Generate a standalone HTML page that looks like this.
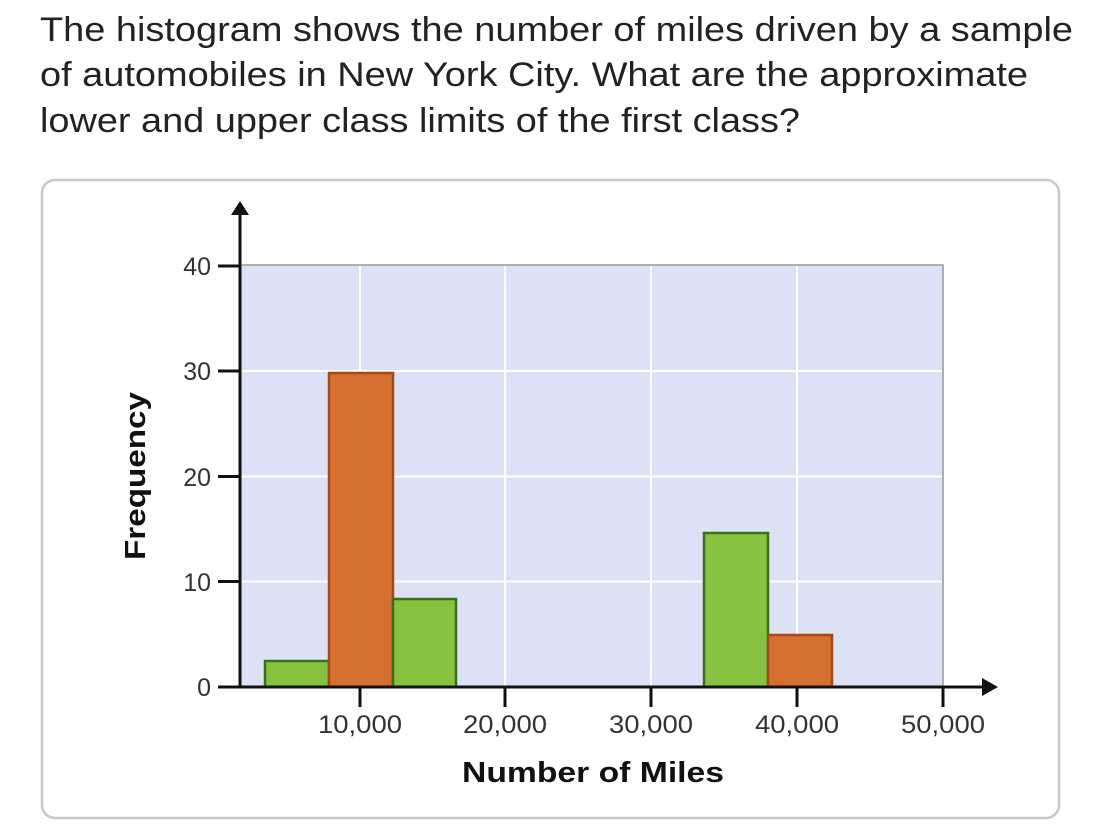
<!DOCTYPE html>
<html><head><meta charset="utf-8"><style>
html,body{margin:0;padding:0;background:#fff;}
svg{display:block;font-family:"Liberation Sans",Arial,sans-serif;}
</style></head><body>
<svg width="1112" height="824" viewBox="0 0 1112 824" xmlns="http://www.w3.org/2000/svg">
<g font-size="34" fill="#222">
<text x="40" y="41" textLength="1033" lengthAdjust="spacingAndGlyphs">The histogram shows the number of miles driven by a sample</text>
<text x="40" y="86" textLength="988" lengthAdjust="spacingAndGlyphs">of automobiles in New York City. What are the approximate</text>
<text x="40" y="132" textLength="760" lengthAdjust="spacingAndGlyphs">lower and upper class limits of the first class?</text>
</g>
<rect x="42" y="180" width="1017" height="638" rx="13" fill="#fff" stroke="#c8c8c8" stroke-width="2.5"/>
<rect x="240" y="265" width="703" height="422" fill="#dce1f5" stroke="#999" stroke-width="1.5"/>
<g stroke="#fff" stroke-width="2">
<line x1="360" y1="266" x2="360" y2="686"/><line x1="505" y1="266" x2="505" y2="686"/>
<line x1="651" y1="266" x2="651" y2="686"/><line x1="797" y1="266" x2="797" y2="686"/>
<line x1="241" y1="371" x2="942" y2="371"/><line x1="241" y1="476.5" x2="942" y2="476.5"/>
<line x1="241" y1="581.5" x2="942" y2="581.5"/>
</g>
<g stroke-width="2.5">
<rect x="265" y="661" width="64" height="26" fill="#86c240" stroke="#3a6e1e"/>
<rect x="329" y="373" width="64" height="314" fill="#d57030" stroke="#a04a1a"/>
<rect x="393" y="599" width="63" height="88" fill="#86c240" stroke="#3a6e1e"/>
<rect x="704" y="533" width="64" height="154" fill="#86c240" stroke="#3a6e1e"/>
<rect x="768" y="635" width="64" height="52" fill="#d57030" stroke="#a04a1a"/>
</g>
<g stroke="#111" stroke-width="3">
<line x1="240" y1="214" x2="240" y2="688"/>
<line x1="239" y1="687" x2="984" y2="687"/>
<line x1="218" y1="266" x2="240" y2="266"/><line x1="218" y1="371" x2="240" y2="371"/>
<line x1="218" y1="476.5" x2="240" y2="476.5"/><line x1="218" y1="581.5" x2="240" y2="581.5"/>
<line x1="218" y1="687" x2="240" y2="687"/>
<line x1="360" y1="687" x2="360" y2="707"/><line x1="505" y1="687" x2="505" y2="707"/>
<line x1="651" y1="687" x2="651" y2="707"/><line x1="797" y1="687" x2="797" y2="707"/>
<line x1="943" y1="687" x2="943" y2="707"/>
</g>
<polygon points="240,201 231,215 249,215" fill="#111"/>
<polygon points="998,687 982,678 982,696" fill="#111"/>
<g font-size="25" fill="#333" text-anchor="end">
<text x="211" y="275">40</text><text x="211" y="380">30</text>
<text x="211" y="486">20</text><text x="211" y="591">10</text>
<text x="211" y="696">0</text>
</g>
<g font-size="25" fill="#333" text-anchor="middle">
<text x="360" y="733" textLength="84" lengthAdjust="spacingAndGlyphs">10,000</text><text x="505" y="733" textLength="84" lengthAdjust="spacingAndGlyphs">20,000</text>
<text x="651" y="733" textLength="84" lengthAdjust="spacingAndGlyphs">30,000</text><text x="797" y="733" textLength="84" lengthAdjust="spacingAndGlyphs">40,000</text>
<text x="943" y="733" textLength="84" lengthAdjust="spacingAndGlyphs">50,000</text>
</g>
<text x="593" y="782" font-size="29" font-weight="bold" fill="#111" text-anchor="middle" textLength="262" lengthAdjust="spacingAndGlyphs">Number of Miles</text>
<text transform="translate(145,476) rotate(-90)" font-size="29" font-weight="bold" fill="#111" text-anchor="middle" textLength="168" lengthAdjust="spacingAndGlyphs">Frequency</text>
</svg>
</body></html>
